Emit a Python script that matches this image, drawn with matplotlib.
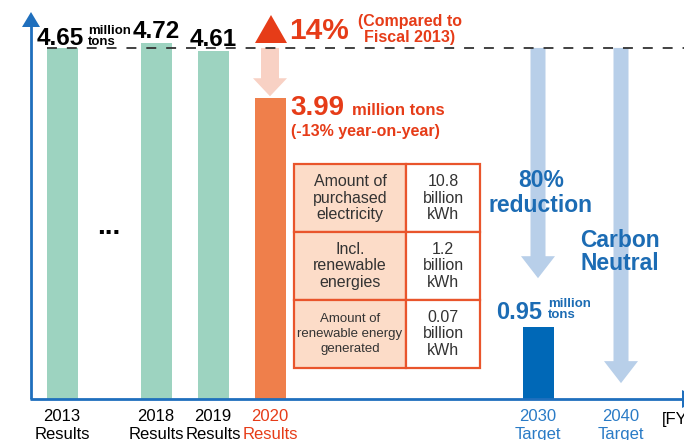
"""CO2 emissions results and reduction targets (million tons)."""
import matplotlib

matplotlib.use("Agg")
import matplotlib.pyplot as plt
from matplotlib.patches import Polygon, Rectangle

plt.rcParams["font.family"] = ["Liberation Sans", "DejaVu Sans"]

# --- data -------------------------------------------------------------
years = ["2013", "2018", "2019", "2020", "2030", "2040"]
kinds = ["Results", "Results", "Results", "Results", "Target", "Target"]
result_values = [4.65, 4.72, 4.61, 3.99]
target_2030 = 0.95
target_2040 = 0.0
table_items = [
    "Amount of\npurchased\nelectricity",
    "Incl.\nrenewable\nenergies",
    "Amount of\nrenewable energy\ngenerated",
]
table_values = ["10.8\nbillion\nkWh", "1.2\nbillion\nkWh", "0.07\nbillion\nkWh"]

# --- layout / style ---------------------------------------------------
W, H = 684, 440
BASE = 399          # pixel row of the x axis
S = 75.5            # pixels per million tons
xpos = [62, 156, 213, 270, 538, 621]
BAR_W = 31

GREEN = "#9dd3c0"
ORANGE = "#ef7f4b"
RED = "#e63c18"
PINK = "#f8d1c4"
DARK_BLUE = "#0068b7"
TEXT_BLUE = "#1c6cb4"
LABEL_BLUE = "#2a7bc6"
ARROW_BLUE = "#b8cfe9"
AXIS_BLUE = "#1f6fbd"
TABLE_EDGE = "#e9552c"
TABLE_FILL = "#fcdcc8"
GREY = "#333333"


def yv(px):
    """Pixel row -> data value."""
    return (BASE - px) / S


def down_arrow(ax, xc, top, tip, shaft_w, head_w, head_len, color, z=1):
    neck = tip + head_len / S
    pts = [
        (xc - shaft_w / 2, top), (xc + shaft_w / 2, top),
        (xc + shaft_w / 2, neck), (xc + head_w / 2, neck),
        (xc, tip), (xc - head_w / 2, neck), (xc - shaft_w / 2, neck),
    ]
    ax.add_patch(Polygon(pts, closed=True, facecolor=color, edgecolor="none", zorder=z))


fig = plt.figure(figsize=(W / 100, H / 100), dpi=100)
ax = fig.add_axes([0, 0, 1, 1])
ax.set_xlim(0, W)
ax.set_ylim(yv(H), yv(0))
ax.axis("off")

# bars
bar_colors = [GREEN, GREEN, GREEN, ORANGE]
ax.bar(xpos[:4], result_values, width=BAR_W, color=bar_colors, zorder=2)
ax.bar(xpos[4], target_2030, width=BAR_W, color=DARK_BLUE, zorder=2)

# reference level (FY2013) and arrows hanging from it
ref = result_values[0]
down_arrow(ax, xpos[3], ref, result_values[3] + 0.02, 18, 34, 18, PINK)
down_arrow(ax, xpos[4], ref, target_2030 + 0.65, 15, 34, 22, ARROW_BLUE)
down_arrow(ax, xpos[5], ref, target_2040 + 0.21, 15, 34, 22, ARROW_BLUE)
ax.plot([47, W], [ref, ref], color=GREY, lw=1.3, dashes=(5.5, 5.5), zorder=4)

# axes with arrowheads
ax.plot([31, 31], [0, yv(26)], color=AXIS_BLUE, lw=2, zorder=5, solid_capstyle="butt")
ax.add_patch(Polygon([(22, yv(27)), (40, yv(27)), (31, yv(12))],
                     facecolor=AXIS_BLUE, edgecolor="none", zorder=5))
ax.plot([30, W], [0, 0], color=AXIS_BLUE, lw=2, zorder=5, solid_capstyle="butt")
ax.add_patch(Polygon([(682, yv(390)), (682, yv(408)), (700, yv(399))],
                     facecolor=AXIS_BLUE, edgecolor="none", zorder=5))

# value labels for the results
big = dict(fontsize=17.5, fontweight="bold", color="black", va="baseline")
small = dict(fontsize=9.5, fontweight="bold", color="black", va="baseline")
top0 = BASE - result_values[0] * S
ax.text(37, yv(top0 - 3), f"{result_values[0]:.2f}", ha="left", **big)
ax.text(88, yv(top0 - 14), "million", ha="left", **small)
ax.text(88, yv(top0 - 3), "tons", ha="left", **small)
for i in (1, 2):
    t = BASE - result_values[i] * S
    ax.text(xpos[i], yv(t - 5), f"{result_values[i]:.2f}", ha="center", **big)
ax.text(109, yv(234), "...", ha="center", va="baseline", fontsize=20,
        fontweight="bold", color="black")

# FY2020 annotations
ax.add_patch(Polygon([(255, yv(43)), (287, yv(43)), (271, yv(15))],
                     facecolor=RED, edgecolor="none", zorder=3))
ax.text(289, yv(39), "14%", ha="left", va="baseline", fontsize=21.5,
        fontweight="bold", color=RED)
ax.text(410, yv(26), "(Compared to", ha="center", va="baseline", fontsize=11.5,
        fontweight="bold", color=RED)
ax.text(410, yv(42), "Fiscal 2013)", ha="center", va="baseline", fontsize=11.5,
        fontweight="bold", color=RED)
ax.text(290, yv(115), f"{result_values[3]:.2f}", ha="left", va="baseline",
        fontsize=20, fontweight="bold", color=RED)
ax.text(352, yv(115), "million tons", ha="left", va="baseline", fontsize=12,
        fontweight="bold", color=RED)
ax.text(291, yv(136), "(-13% year-on-year)", ha="left", va="baseline",
        fontsize=11.5, fontweight="bold", color=RED)

# electricity table
tx0, tx1, tx2 = 294, 406, 480
row_edges = [164, 232, 300, 368]
for r, (item, val) in enumerate(zip(table_items, table_values)):
    y_top, y_bot = row_edges[r], row_edges[r + 1]
    ax.add_patch(Rectangle((tx0, yv(y_bot)), tx1 - tx0, (y_bot - y_top) / S,
                           facecolor=TABLE_FILL, edgecolor=TABLE_EDGE, lw=1.6, zorder=3))
    ax.add_patch(Rectangle((tx1, yv(y_bot)), tx2 - tx1, (y_bot - y_top) / S,
                           facecolor="white", edgecolor=TABLE_EDGE, lw=1.6, zorder=3))
    yc = yv((y_top + y_bot) / 2)
    item_size = 9.5 if r == 2 else 11.5
    ax.text((tx0 + tx1) / 2, yc, item, ha="center", va="center", fontsize=item_size,
            color=GREY, linespacing=1.3 if r == 2 else 1.15, zorder=4)
    ax.text((tx1 + tx2) / 2, yc, val, ha="center", va="center", fontsize=11.5,
            color=GREY, linespacing=1.15, zorder=4)

# targets
blue_big = dict(fontsize=16.5, fontweight="bold", color=TEXT_BLUE, va="baseline",
                ha="center", zorder=6)
ax.text(541, yv(187), "80%", **blue_big)
ax.text(541, yv(212), "reduction", **blue_big)
ax.text(620, yv(247), "Carbon", **blue_big)
ax.text(620, yv(270), "Neutral", **blue_big)
t30 = BASE - target_2030 * S
ax.text(496, yv(t30 - 8), f"{target_2030:.2f}", ha="left", va="baseline",
        fontsize=17, fontweight="bold", color=TEXT_BLUE)
ax.text(548, yv(t30 - 20), "million", ha="left", va="baseline", fontsize=9.5,
        fontweight="bold", color=TEXT_BLUE)
ax.text(548, yv(t30 - 9), "tons", ha="left", va="baseline", fontsize=9.5,
        fontweight="bold", color=TEXT_BLUE)

# x labels
label_colors = ["black", "black", "black", RED, LABEL_BLUE, LABEL_BLUE]
for x, yr, kind, c in zip(xpos, years, kinds, label_colors):
    ax.text(x, yv(421), yr, ha="center", va="baseline", fontsize=12, color=c)
    ax.text(x, yv(439), kind, ha="center", va="baseline", fontsize=12, color=c)
ax.text(662, yv(424), "[FY]", ha="left", va="baseline", fontsize=12, color="black")

fig.savefig("out.png", dpi=100)
